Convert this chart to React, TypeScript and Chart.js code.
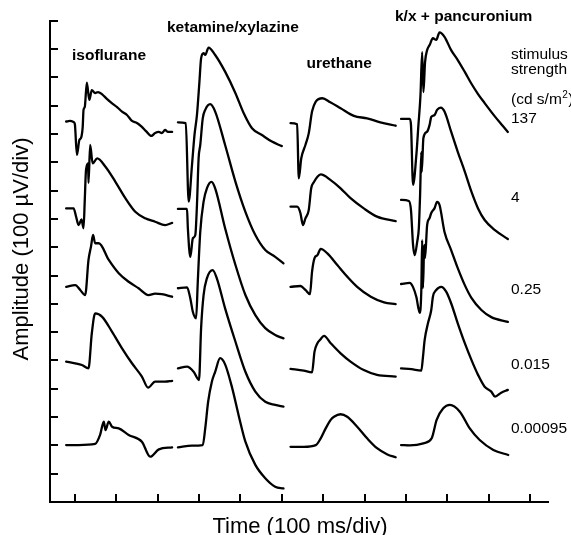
import React, { useEffect, useRef } from 'react';
import { Chart, registerables } from 'chart.js';

Chart.register(...registerables);

type Pt = [number, number];

// Categories
const anesthetics = ['isoflurane', 'ketamine/xylazine', 'urethane', 'k/x + pancuronium'];
const stimulusStrengths = ['137', '4', '0.25', '0.015', '0.00095'];

// Tick values (100 ms/div, 100 µV/div)
const xTickValues = [60, 160, 260, 360, 460, 560, 660, 760, 860, 960, 1060, 1160];
const yTickValues = [0, 100, 200, 300, 400, 500, 600, 700, 800, 900, 1000, 1100, 1200, 1300, 1400, 1500, 1600, 1700];

// Traces: [time ms, amplitude µV]
const iso137: Pt[] = [[39,1344],[48,1346],[57,1342],[60,1335],[65,1226],[71,1279],[75,1286],[79,1325],[81,1385],[84,1395],[89,1481],[95,1420],[101,1455],[109,1444],[116,1448],[126,1440],[138,1423],[150,1408],[162,1395],[174,1379],[186,1367],[198,1346],[210,1339],[222,1325],[232,1310],[245,1293],[254,1303],[263,1307],[270,1303],[278,1314],[285,1307],[295,1307]];
const iso4: Pt[] = [[39,1037],[57,1037],[63,1008],[69,978],[76,998],[81,967],[84,1067],[87,1173],[92,1196],[93,1127],[97,1261],[103,1196],[114,1214],[134,1184],[158,1131],[182,1073],[206,1025],[230,1002],[254,990],[278,978],[295,986]];
const iso025: Pt[] = [[39,760],[61,766],[73,749],[85,731],[93,855],[99,902],[104,943],[109,914],[118,914],[142,855],[166,808],[190,778],[214,755],[238,731],[254,736],[270,734],[295,725]];
const iso0015: Pt[] = [[39,496],[61,490],[77,484],[93,472],[101,596],[109,666],[126,654],[150,601],[174,543],[198,490],[222,443],[237,404],[254,425],[278,425],[295,428]];
const iso000095: Pt[] = [[39,201],[69,201],[109,205],[121,237],[130,284],[134,254],[142,284],[150,266],[166,260],[190,237],[222,213],[242,160],[263,186],[295,193]];

const kx137: Pt[] = [[309,1341],[328,1338],[335,1061],[343,1190],[349,1296],[355,1367],[361,1485],[365,1567],[371,1585],[375,1579],[383,1605],[399,1579],[423,1520],[448,1444],[468,1373],[488,1320],[512,1296],[536,1273],[560,1257]];
const kx4: Pt[] = [[309,1035],[331,1035],[333,968],[339,866],[345,931],[351,943],[355,1049],[359,1214],[363,1261],[369,1355],[375,1385],[387,1405],[399,1379],[423,1261],[448,1131],[472,1025],[496,943],[520,890],[544,866],[564,843]];
const kx025: Pt[] = [[309,755],[331,758],[339,719],[345,672],[353,649],[357,778],[363,955],[371,1061],[379,1108],[390,1131],[399,1108],[423,967],[448,837],[472,731],[496,660],[520,614],[544,590],[564,578]];
const kx0015: Pt[] = [[309,472],[331,478],[347,460],[360,431],[365,614],[371,731],[379,790],[393,819],[403,790],[423,684],[448,566],[472,460],[496,390],[520,354],[544,343],[564,337]];
const kx000095: Pt[] = [[309,193],[343,199],[369,201],[375,260],[382,354],[391,425],[399,460],[411,508],[423,486],[440,403],[456,304],[472,213],[496,131],[520,84],[544,54],[564,48]];

const ure137: Pt[] = [[581,1338],[597,1334],[601,1143],[607,1214],[617,1261],[625,1302],[633,1379],[642,1414],[658,1426],[677,1412],[702,1391],[734,1364],[766,1355],[798,1341],[835,1329]];
const ure4: Pt[] = [[581,1043],[597,1043],[605,1020],[611,978],[617,1002],[625,1031],[631,1108],[638,1131],[646,1149],[654,1157],[678,1137],[702,1108],[726,1073],[758,1037],[790,1008],[835,992]];
const ure025: Pt[] = [[581,760],[605,763],[617,749],[628,734],[633,813],[639,861],[646,872],[654,894],[670,878],[694,837],[718,796],[742,760],[775,725],[807,705],[835,699]];
const ure0015: Pt[] = [[581,470],[613,464],[633,458],[639,531],[646,561],[652,572],[662,587],[678,561],[702,525],[726,496],[758,466],[790,449],[835,443]];
const ure000095: Pt[] = [[581,195],[613,195],[642,201],[654,225],[666,260],[678,290],[686,301],[702,310],[718,301],[742,266],[766,225],[790,190],[815,168],[835,158]];

const kxp137: Pt[] = [[848,1353],[869,1353],[872,1332],[877,1120],[885,1226],[890,1332],[895,1438],[899,1589],[902,1448],[906,1554],[911,1596],[917,1614],[925,1638],[933,1632],[941,1659],[953,1643],[969,1596],[985,1561],[1002,1519],[1017,1480],[1034,1441],[1050,1409],[1074,1363],[1094,1328],[1106,1307]];
const kxp4: Pt[] = [[848,1067],[867,1063],[872,1031],[877,908],[881,872],[887,919],[891,968],[894,1084],[897,1236],[898,1166],[902,1286],[911,1308],[917,1332],[921,1360],[929,1367],[935,1385],[944,1393],[953,1379],[969,1308],[985,1237],[1002,1167],[1018,1096],[1034,1037],[1050,996],[1074,961],[1106,929]];
const kxp025: Pt[] = [[848,770],[869,774],[877,759],[885,724],[893,668],[897,749],[899,925],[901,756],[904,908],[906,862],[911,978],[917,1003],[921,1021],[929,1038],[935,1060],[941,1049],[953,954],[969,890],[985,826],[1002,766],[1018,721],[1042,678],[1066,653],[1106,636]];
const kxp0015: Pt[] = [[848,472],[873,469],[897,464],[901,513],[905,572],[913,631],[921,678],[925,725],[933,749],[945,760],[957,743],[969,702],[985,631],[1002,561],[1018,502],[1034,449],[1050,407],[1066,390],[1075,372],[1090,386],[1106,396]];
const kxp000095: Pt[] = [[848,201],[869,200],[902,207],[922,225],[934,290],[950,331],[966,343],[990,319],[1014,260],[1038,219],[1071,184],[1107,166]];

const FONT = '"Liberation Sans", Arial, Helvetica, sans-serif';

const decorPlugin = {
  id: 'decor',
  afterDraw(chart: any) {
    const { ctx, chartArea, scales } = chart;
    const xs = scales.x;
    const ys = scales.y;
    ctx.save();
    ctx.strokeStyle = '#000';
    ctx.lineWidth = 2;
    ctx.lineCap = 'butt';
    ys.ticks.forEach((t: any) => {
      const py = Math.round(ys.getPixelForValue(t.value));
      ctx.beginPath();
      ctx.moveTo(chartArea.left, py);
      ctx.lineTo(chartArea.left + 8, py);
      ctx.stroke();
    });
    xs.ticks.forEach((t: any) => {
      const px = Math.round(xs.getPixelForValue(t.value));
      ctx.beginPath();
      ctx.moveTo(px, chartArea.bottom);
      ctx.lineTo(px, chartArea.bottom - 8);
      ctx.stroke();
    });

    ctx.fillStyle = '#000';
    // axis titles
    ctx.font = `22px ${FONT}`;
    ctx.textAlign = 'center';
    ctx.textBaseline = 'alphabetic';
    ctx.fillText('Time (100 ms/div)', 300, 532.5);
    ctx.save();
    ctx.translate(28, 249);
    ctx.rotate(-Math.PI / 2);
    ctx.fillText('Amplitude (100 \u00B5V/div)', 0, 0);
    ctx.restore();

    // column titles
    ctx.textAlign = 'left';
    ctx.font = `bold 15.5px ${FONT}`;
    const titlePos: [number, number][] = [[72, 59.5], [167, 32], [306.5, 68], [395, 21]];
    anesthetics.forEach((name, i) => ctx.fillText(name, titlePos[i][0], titlePos[i][1]));

    // stimulus labels
    ctx.font = `15.5px ${FONT}`;
    const lx = 511;
    ctx.fillText('stimulus', lx, 58.5);
    ctx.fillText('strength', lx, 74);
    const pre = '(cd s/m';
    ctx.fillText(pre, lx, 104);
    const w = ctx.measureText(pre).width;
    ctx.font = `10px ${FONT}`;
    ctx.fillText('2', lx + w + 0.5, 98);
    const w2 = ctx.measureText('2').width;
    ctx.font = `15.5px ${FONT}`;
    ctx.fillText(')', lx + w + w2 + 1, 104);
    const rowBase = [123.3, 201.7, 294, 369.3, 432.7];
    stimulusStrengths.forEach((s, i) => ctx.fillText(s, lx, rowBase[i]));
    ctx.restore();
  },
};

export default function App() {
  const ref = useRef<HTMLCanvasElement>(null);
  useEffect(() => {
    if (!ref.current) return;
    const grid: Pt[][][] = [
      [iso137, iso4, iso025, iso0015, iso000095],
      [kx137, kx4, kx025, kx0015, kx000095],
      [ure137, ure4, ure025, ure0015, ure000095],
      [kxp137, kxp4, kxp025, kxp0015, kxp000095],
    ];
    const datasets: any[] = [];
    grid.forEach((col, ci) =>
      col.forEach((trace, ri) =>
        datasets.push({
          label: `${anesthetics[ci]} ${stimulusStrengths[ri]}`,
          data: trace.map(([x, y]) => ({ x, y })),
          borderColor: '#000',
          borderWidth: 2.3,
          pointRadius: 0,
          cubicInterpolationMode: 'monotone',
          fill: false,
          borderJoinStyle: 'round',
          borderCapStyle: 'round',
        })
      )
    );
    const chart = new Chart(ref.current, {
      type: 'line',
      data: { datasets },
      options: {
        responsive: false,
        animation: false,
        devicePixelRatio: 1,
        events: [],
        layout: { padding: { left: 50, top: 20.7, right: 23, bottom: 33 } },
        plugins: { legend: { display: false }, tooltip: { enabled: false }, title: { display: false } },
        scales: {
          x: {
            type: 'linear',
            min: 0,
            max: 1203,
            grid: { display: false, drawTicks: false },
            ticks: { display: false },
            border: { display: true, color: '#000', width: 2 },
            afterBuildTicks: (s: any) => {
              s.ticks = xTickValues.map((v) => ({ value: v }));
            },
          },
          y: {
            type: 'linear',
            min: 0,
            max: 1700,
            grid: { display: false, drawTicks: false },
            ticks: { display: false },
            border: { display: true, color: '#000', width: 2 },
            afterBuildTicks: (s: any) => {
              s.ticks = yTickValues.map((v) => ({ value: v }));
            },
          },
        },
      } as any,
      plugins: [decorPlugin],
    });
    return () => chart.destroy();
  }, []);
  return (
    <div style={{ position: 'fixed', left: 0, top: 0, width: 571, height: 535, background: '#fff' }}>
      <canvas ref={ref} width={571} height={535} style={{ display: 'block', width: 571, height: 535 }} />
    </div>
  );
}
